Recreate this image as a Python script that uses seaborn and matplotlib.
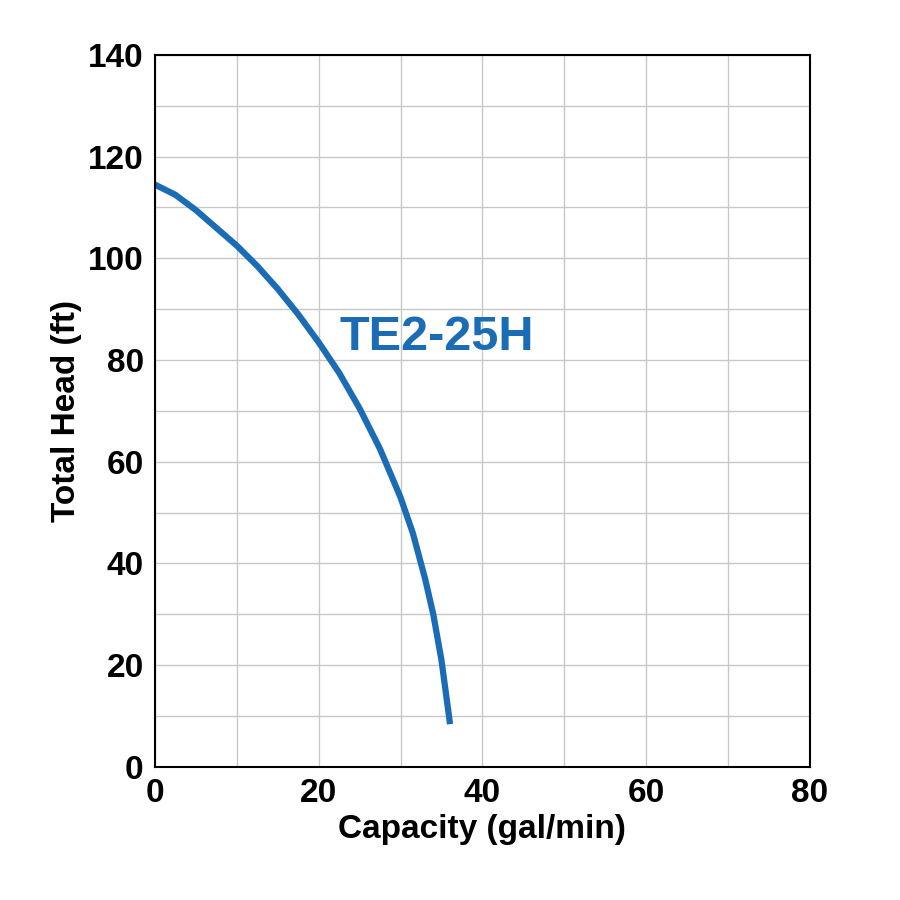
import matplotlib
matplotlib.use("Agg")
import matplotlib.pyplot as plt
import seaborn as sns
import pandas as pd

# pump curve
capacity = [0, 2.5, 5, 7.5, 10, 12.5, 15, 17.5, 20, 22.5, 25, 27.5, 30, 31.5, 33, 34, 35, 35.5, 36]
head = [114.5, 112.5, 109.5, 106, 102.5, 98.5, 94, 89, 83.5, 77.5, 70.5, 62.5, 53, 46, 37, 30, 21, 15, 9]
model_name = "TE2-25H"

df = pd.DataFrame({"capacity": capacity, "head": head})

plt.rcParams["font.family"] = "Liberation Sans"
plt.rcParams["font.weight"] = "bold"

fig, ax = plt.subplots(figsize=(9, 9), dpi=100)
fig.subplots_adjust(left=0.172, right=0.9, top=0.939, bottom=0.148)

sns.lineplot(data=df, x="capacity", y="head", ax=ax, color="#1a6db5", lw=4.5)

ax.set_xlim(0, 80)
ax.set_ylim(0, 140)
ax.set_xticks(range(0, 81, 10), minor=True)
ax.set_yticks(range(0, 141, 10), minor=True)
ax.set_xticks(range(0, 81, 20))
ax.set_yticks(range(0, 141, 20))
ax.grid(which="both", color="#c8c8c8", lw=1)
ax.set_axisbelow(True)
ax.tick_params(which="both", length=0, labelsize=24, pad=8)
for s in ax.spines.values():
    s.set_linewidth(1.5)
    s.set_color("black")

ax.set_xlabel("Capacity (gal/min)", fontsize=24, fontweight="bold")
ax.set_ylabel("Total Head (ft)", fontsize=24, fontweight="bold")
ax.text(22.5, 84.5, model_name, fontsize=35, fontweight="bold", color="#1a6db5", va="center")

fig.savefig("out.png", dpi=100, facecolor="white")
